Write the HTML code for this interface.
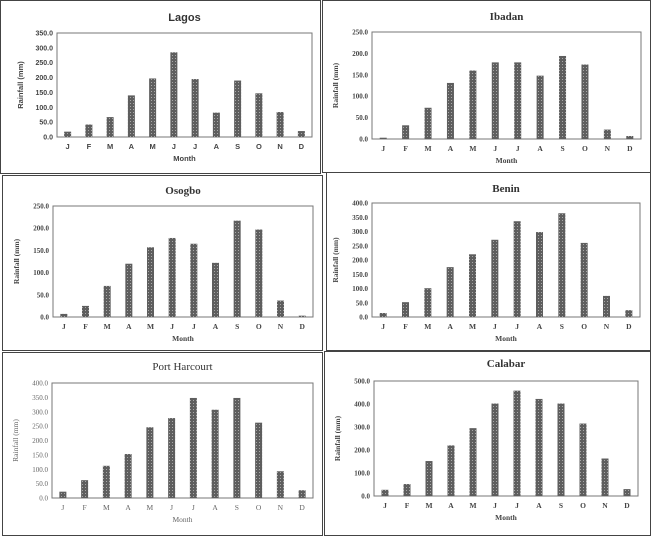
<!DOCTYPE html><html><head><meta charset="utf-8"><style>
body{margin:0;background:#fff;width:652px;height:536px;overflow:hidden}
</style></head><body>
<svg id="s" width="652" height="536" xmlns="http://www.w3.org/2000/svg">
<defs><pattern id="p" width="3" height="3" patternUnits="userSpaceOnUse"><rect width="3" height="3" fill="#5e5e5e"/><rect x="1" y="1" width="1" height="1" fill="#a8a8a8"/></pattern></defs>
</svg>
<script>
const S=document.getElementById('s');
const M=['J','F','M','A','M','J','J','A','S','O','N','D'];
const C=[
{t:'Lagos',px:[0,0,320,173],x0:57,x1:312,y0:33,y1:137,max:350,step:50,d:[18,42,67,140,197,285,195,82,190,147,84,20],f:'"Liberation Sans",sans-serif',b:true,ty:17},
{t:'Ibadan',px:[322,0,328,172],x0:372,x1:641,y0:32,y1:139,max:250,step:50,d:[3,32,73,131,160,179,179,148,194,174,22,7],f:'"Liberation Serif",serif',b:true,ty:16},
{t:'Osogbo',px:[2,175,320,175],x0:53,x1:313,y0:206,y1:317,max:250,step:50,d:[7,25,70,120,157,178,165,122,217,197,37,3],f:'"Liberation Serif",serif',b:true,ty:190},
{t:'Benin',px:[326,172,324,178],x0:372,x1:640,y0:203,y1:317,max:400,step:50,d:[14,52,101,175,220,271,336,298,364,260,74,24],f:'"Liberation Serif",serif',b:true,ty:188},
{t:'Port Harcourt',px:[2,352,320,183],x0:52,x1:313,y0:383,y1:498,max:400,step:50,d:[22,62,112,153,246,278,348,307,348,262,93,27],f:'"Liberation Serif",serif',b:false,ty:366},
{t:'Calabar',px:[324,351,326,184],x0:374,x1:638,y0:381,y1:496,max:500,step:100,d:[27,52,152,220,295,402,458,422,402,315,163,30],f:'"Liberation Serif",serif',b:true,ty:363}];
let h='';
for(const c of C){
 const [a,b,w,hh]=c.px;
 h+=`<rect x="${a+.5}" y="${b+.5}" width="${w}" height="${hh}" fill="none" stroke="#444" stroke-width="1"/>`;
 const fw=c.b?'bold':'normal', col=c.b?'#444':'#666';
 h+=`<rect x="${c.x0}" y="${c.y0}" width="${c.x1-c.x0}" height="${c.y1-c.y0}" fill="none" stroke="#777" stroke-width="1"/>`;
 const cx=(c.x0+c.x1)/2;
 h+=`<text x="${cx}" y="${c.ty+4}" text-anchor="middle" font-family='${c.f}' font-size="11" font-weight="${fw}" fill="#333">${c.t}</text>`;
 for(let v=0;v<=c.max;v+=c.step){const y=c.y1-(c.y1-c.y0)*v/c.max;
  h+=`<text x="${c.x0-4}" y="${y+2.5}" text-anchor="end" font-family='${c.f}' font-size="7" font-weight="${fw}" fill="${col}">${v.toFixed(1)}</text>`;}
 const bw=(c.x1-c.x0)/12;
 c.d.forEach((v,i)=>{const x=c.x0+bw*(i+.5);const hgt=(c.y1-c.y0)*v/c.max;
  h+=`<rect x="${x-3.5}" y="${c.y1-hgt}" width="7" height="${hgt}" fill="url(#p)"/>`;
  h+=`<text x="${x}" y="${c.y1+12}" text-anchor="middle" font-family='${c.f}' font-size="7.5" font-weight="${fw}" fill="${col}">${M[i]}</text>`;});
 h+=`<text x="${cx}" y="${c.y1+24}" text-anchor="middle" font-family='${c.f}' font-size="7.5" font-weight="${fw}" fill="${col}">Month</text>`;
 const my=(c.y0+c.y1)/2, mx=c.x0-34;
 h+=`<text transform="translate(${mx},${my}) rotate(-90)" text-anchor="middle" font-family='${c.f}' font-size="7.5" font-weight="${fw}" fill="${col}">Rainfall (mm)</text>`;
}
S.insertAdjacentHTML('beforeend',h);
</script>
</body></html>
